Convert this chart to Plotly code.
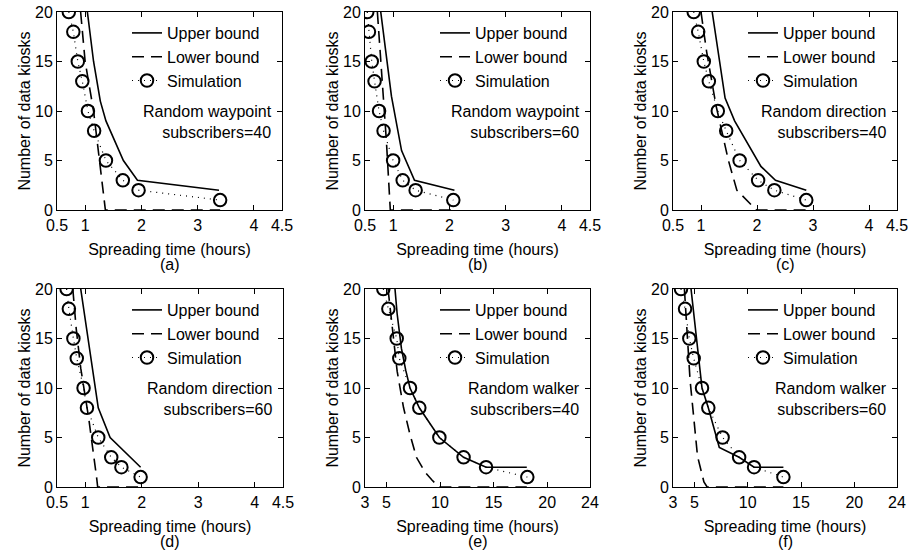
import plotly.graph_objects as go

# ---------------- data ----------------
sim_y = [20, 18, 15, 13, 10, 8, 5, 3, 2, 1]

# (a) Random waypoint, subscribers=40
sim_x_a = [0.71, 0.79, 0.87, 0.95, 1.05, 1.16, 1.37, 1.67, 1.95, 3.40]
up_x_a = [1.04, 1.15, 1.27, 1.37, 1.68, 1.93, 3.38]
up_y_a = [20, 15, 11, 9, 5, 3, 2]
lo_x_a = [0.92, 1.00, 1.15, 1.28, 1.36, 3.40]
lo_y_a = [20, 15, 10, 4, 0, 0]

# (b) Random waypoint, subscribers=60
sim_x_b = [0.54, 0.57, 0.62, 0.67, 0.75, 0.83, 1.00, 1.17, 1.40, 2.07]
up_x_b = [0.78, 0.97, 1.15, 1.38, 2.09]
up_y_b = [20, 11.5, 6, 3, 2]
lo_x_b = [0.72, 0.80, 0.88, 0.94, 0.95, 2.07]
lo_y_b = [20, 14, 7, 1, 0, 0]

# (c) Random direction, subscribers=40
sim_x_c = [0.87, 0.95, 1.05, 1.14, 1.30, 1.45, 1.69, 2.02, 2.31, 2.88]
up_x_c = [1.20, 1.43, 1.60, 1.80, 2.07, 2.33, 2.88]
up_y_c = [20, 11.3, 9, 7.1, 4.4, 3, 2]
lo_x_c = [1.00, 1.10, 1.27, 1.49, 1.64, 1.82, 1.99, 2.88]
lo_y_c = [20, 16, 10.5, 5, 2, 1, 0, 0]

# (d) Random direction, subscribers=60
sim_x_d = [0.67, 0.71, 0.79, 0.85, 0.97, 1.03, 1.23, 1.46, 1.64, 1.98]
up_x_d = [0.92, 1.23, 1.44, 1.98]
up_y_d = [20, 8, 5, 2]
lo_x_d = [0.78, 0.84, 0.92, 1.06, 1.20, 1.22, 1.98]
lo_y_d = [20, 16, 12, 7, 1, 0, 0]

# (e) Random walker, subscribers=40
sim_x_e = [4.71, 5.18, 5.96, 6.20, 7.20, 8.07, 9.94, 12.2, 14.3, 18.15]
up_x_e = [5.8, 6.0, 6.4, 6.8, 7.2, 8.07, 9.94, 12.2, 14.3, 18.1]
up_y_e = [20, 17.5, 14, 11.8, 10, 8, 5, 3, 2, 2]
lo_x_e = [5.15, 5.55, 6.0, 6.6, 7.2, 7.8, 8.6, 9.25, 9.9, 18.1]
lo_y_e = [20, 16, 11.7, 8, 5.3, 3, 1.5, 0.7, 0, 0]

# (f) Random walker, subscribers=60
sim_x_f = [3.75, 4.13, 4.53, 4.94, 5.72, 6.31, 7.65, 9.2, 10.6, 13.35]
up_x_f = [4.69, 5.72, 6.31, 7.34, 9.2, 10.6, 13.35]
up_y_f = [20, 10, 8, 4, 3, 2, 2]
lo_x_f = [4.07, 4.6, 5.3, 5.9, 6.2, 13.35]
lo_y_f = [20, 10.8, 3.1, 0.5, 0, 0]

panel_labels = ["(a)", "(b)", "(c)", "(d)", "(e)", "(f)"]
model_names = ["Random waypoint", "Random waypoint", "Random direction",
               "Random direction", "Random walker", "Random walker"]
subscribers = [40, 60, 40, 60, 40, 60]
x_ticks_hours = [0.5, 1, 2, 3, 4, 4.5]
x_ticks_walker = [3, 5, 10, 15, 20, 24]
y_ticks = [0, 5, 10, 15, 20]
series_names = ["Upper bound", "Lower bound", "Simulation"]

panels = [
    (sim_x_a, up_x_a, up_y_a, lo_x_a, lo_y_a, x_ticks_hours),
    (sim_x_b, up_x_b, up_y_b, lo_x_b, lo_y_b, x_ticks_hours),
    (sim_x_c, up_x_c, up_y_c, lo_x_c, lo_y_c, x_ticks_hours),
    (sim_x_d, up_x_d, up_y_d, lo_x_d, lo_y_d, x_ticks_hours),
    (sim_x_e, up_x_e, up_y_e, lo_x_e, lo_y_e, x_ticks_walker),
    (sim_x_f, up_x_f, up_y_f, lo_x_f, lo_y_f, x_ticks_walker),
]

# ---------------- layout geometry (pixels) ----------------
W, H = 908, 559
px_x = [(57, 282), (365, 590), (673, 897), (57, 283), (365, 590), (673, 897)]
px_y = [(12, 210), (12, 210), (12, 210), (289, 487), (289, 487), (289, 487)]

FONT = "Liberation Sans, Arial, Helvetica, sans-serif"
FS = 16

fig = go.Figure()
layout = dict(
    width=W, height=H,
    margin=dict(l=0, r=0, t=0, b=0),
    paper_bgcolor="white", plot_bgcolor="white",
    font=dict(family=FONT, size=FS, color="black"),
    annotations=[],
)

for i, (sx, ux, uy, lx, ly, xt) in enumerate(panels):
    n = i + 1
    xa = "x" if n == 1 else f"x{n}"
    ya = "y" if n == 1 else f"y{n}"
    lg = "legend" if n == 1 else f"legend{n}"
    fig.add_trace(go.Scatter(x=ux, y=uy, mode="lines", name=series_names[0],
                             line=dict(color="black", width=1.6),
                             xaxis=xa, yaxis=ya, legend=lg))
    fig.add_trace(go.Scatter(x=lx, y=ly, mode="lines", name=series_names[1],
                             line=dict(color="black", width=1.6, dash="12px,7px"),
                             xaxis=xa, yaxis=ya, legend=lg))
    fig.add_trace(go.Scatter(x=sx, y=sim_y, mode="lines+markers", name=series_names[2],
                             line=dict(color="black", width=1.2, dash="1px,5px"),
                             marker=dict(symbol="circle-open", size=12.5, color="black",
                                         line=dict(width=2, color="black")),
                             xaxis=xa, yaxis=ya, legend=lg))

    x0, x1 = px_x[i]
    y0, y1 = px_y[i]
    dom_x = [x0 / W, x1 / W]
    dom_y = [1 - y1 / H, 1 - y0 / H]
    axis_common = dict(showline=True, linecolor="black", linewidth=1, mirror="ticks",
                       ticks="inside", ticklen=5, tickcolor="black", tickwidth=1,
                       showgrid=False, zeroline=False, tickfont=dict(size=FS),
                       ticklabeloverflow="allow")
    layout["xaxis" if n == 1 else f"xaxis{n}"] = dict(
        domain=dom_x, anchor=ya, range=[xt[0], xt[-1]], tickmode="array",
        tickvals=xt, ticktext=[f"{v:g}" for v in xt], ticklabelstandoff=1,
        title=dict(text="Spreading time (hours)", standoff=10, font=dict(size=FS)),
        automargin=False, **axis_common)
    layout["yaxis" if n == 1 else f"yaxis{n}"] = dict(
        domain=dom_y, anchor=xa, range=[0, 20], tickmode="array", tickvals=y_ticks,
        title=dict(text="Number of data kiosks", standoff=0, font=dict(size=FS)),
        automargin=False, **axis_common)

    layout[lg] = dict(
        x=(x0 + 70) / W, y=1 - (y0 + 4) / H, xanchor="left", yanchor="top",
        bgcolor="rgba(0,0,0,0)", borderwidth=0, font=dict(size=FS),
        tracegroupgap=0, itemwidth=30,
    )

    layout["annotations"].append(dict(
        xref="paper", yref="paper", x=(x1 - 8) / W, y=1 - (y0 + 110) / H,
        xanchor="right", yanchor="middle", align="right", showarrow=False,
        text=f"{model_names[i]}<br>subscribers={subscribers[i]}",
        font=dict(size=FS)))
    layout["annotations"].append(dict(
        xref="paper", yref="paper", x=(x0 + x1) / 2 / W, y=1 - (y1 + 54) / H,
        xanchor="center", yanchor="middle", showarrow=False,
        text=panel_labels[i], font=dict(size=FS)))

fig.update_layout(**layout)
fig.write_html("out.html", config={"displayModeBar": False},
               post_script="document.body.style.margin='0';document.body.style.overflow='hidden';")
